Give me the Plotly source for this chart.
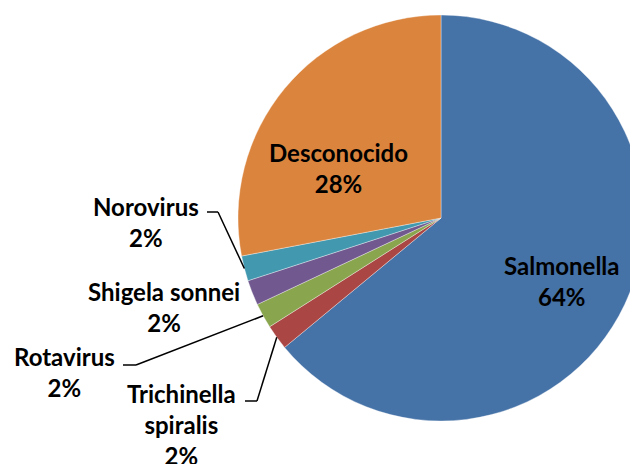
import math
import plotly.graph_objects as go

labels = ["Salmonella", "Trichinella spiralis", "Rotavirus", "Shigela sonnei", "Norovirus", "Desconocido"]
values = [64, 2, 2, 2, 2, 28]
colors = ["#4572A7", "#AA4643", "#89A54E", "#71588F", "#4198AF", "#DB843D"]

W, H = 638, 464
OFF = 8  # page body margin offset: figure pixel = screen pixel - OFF

# pie placement (screen pixels)
cx_s, cy_s, r = 441, 218, 203
cx, cy = cx_s - OFF, cy_s - OFF
dom_x0, dom_x1 = cx - r, cx + r
dom_top, dom_bot = cy - r, cy + r

def px(x):
    return (x - OFF) / W

def py(y):
    return 1 - (y - OFF) / H

fig = go.Figure(go.Pie(
    labels=labels, values=values, sort=False, direction="clockwise", rotation=0,
    marker=dict(colors=colors, line=dict(color="rgba(255,255,255,0.6)", width=0.6)),
    textinfo="none", hoverinfo="label+percent", showlegend=False,
    domain=dict(x=[dom_x0 / W, dom_x1 / W], y=[1 - dom_bot / H, 1 - dom_top / H]),
))

total = sum(values)
cum = 0
mids = []
for v in values:
    mids.append((cum + v / 2) / total * 360)
    cum += v

def edge(i):
    a = math.radians(mids[i])
    return cx_s + r * math.sin(a), cy_s - r * math.cos(a)

# label layout (screen pixel positions, style only)
label_pos = {
    "Salmonella": (562, 281),
    "Desconocido": (338, 168),
    "Norovirus": (146, 222),
    "Shigela sonnei": (164, 307),
    "Rotavirus": (65, 372),
    "Trichinella spiralis": (181, 424),
}
leaders = {
    "Norovirus": [(207, 212), (218, 212)],
    "Rotavirus": [(123, 365), (136, 365)],
    "Trichinella spiralis": [(245, 401), (257, 401)],
}

font = dict(family="Lato, Open Sans, sans-serif", size=24, color="#000000", weight="bold")

for i, lab in enumerate(labels):
    pct = round(values[i] / total * 100)
    txt = lab
    if lab == "Trichinella spiralis":
        txt = "Trichinella<br>spiralis"
    txt = f"{txt}<br>{pct}%"
    x, y = label_pos[lab]
    fig.add_annotation(x=px(x), y=py(y), xref="paper", yref="paper", text=txt,
                       showarrow=False, font=font, align="center",
                       xanchor="center", yanchor="middle")
    if lab in leaders:
        pts = leaders[lab] + [edge(i)]
        for (x0, y0), (x1, y1) in zip(pts[:-1], pts[1:]):
            fig.add_shape(type="line", xref="paper", yref="paper",
                          x0=px(x0), y0=py(y0), x1=px(x1), y1=py(y1),
                          line=dict(color="#000000", width=1.5))

fig.update_layout(width=W, height=H, margin=dict(l=0, r=0, t=0, b=0),
                  paper_bgcolor="white", plot_bgcolor="white")
fig.write_html("out.html")
